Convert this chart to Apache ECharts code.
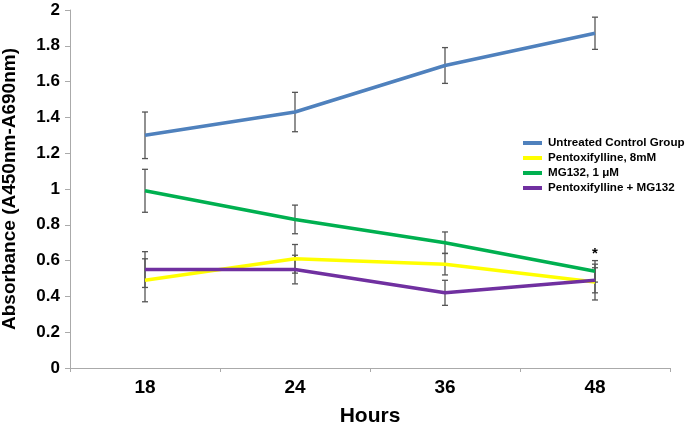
<!DOCTYPE html>
<html>
<head>
<meta charset="utf-8">
<script src="https://cdn.jsdelivr.net/npm/echarts@6/dist/echarts.min.js"></script>
<style>html,body{margin:0;padding:0;background:#fff}#c{width:685px;height:426px}</style>
</head>
<body>
<div id="c"></div>
<script>
const hours = ['18', '24', '36', '48'];
const seriesNames = ['Untreated Control Group', 'Pentoxifylline, 8mM', 'MG132, 1 \u03bcM', 'Pentoxifylline + MG132'];
const untreated = [1.30, 1.43, 1.69, 1.87];
const untreatedErr = [0.13, 0.11, 0.10, 0.09];
const pentox = [0.49, 0.61, 0.58, 0.48];
const pentoxErr = [0.12, 0.08, 0.06, 0.10];
const mg132 = [0.99, 0.83, 0.70, 0.54];
const mg132Err = [0.12, 0.08, 0.06, 0.06];
const combo = [0.55, 0.55, 0.42, 0.49];
const comboErr = [0.10, 0.08, 0.07, 0.07];
const yTicks = [0, 0.2, 0.4, 0.6, 0.8, 1, 1.2, 1.4, 1.6, 1.8, 2];
const starPoint = [3, 0.655];

const colors = ['#4f81bd', '#ffff00', '#00b050', '#7030a0'];
const values = [untreated, pentox, mg132, combo];
const errs = [untreatedErr, pentoxErr, mg132Err, comboErr];

const font = '"Liberation Sans", Arial, Helvetica, sans-serif';

const errData = [];
values.forEach((vals, s) => vals.forEach((v, i) => errData.push([i, v - errs[s][i], v + errs[s][i]])));

const lineSeries = seriesNames.map((n, s) => ({
  name: n,
  type: 'line',
  data: values[s],
  symbol: 'none',
  z: 3 + s,
  lineStyle: { color: colors[s], width: 3.5 },
  itemStyle: { color: colors[s] }
}));
lineSeries[2].markPoint = {
  symbol: 'circle', symbolSize: 0,
  data: [{ coord: starPoint, value: '*' }],
  label: { show: true, formatter: '*', color: '#000', fontFamily: font, fontWeight: 'bold', fontSize: 15, offset: [0, 3] }
};

const chart = echarts.init(document.getElementById('c'));
chart.setOption({
  animation: false,
  backgroundColor: '#fff',
  grid: { left: 70, top: 10, right: 15, bottom: 58, containLabel: false, outerBoundsMode: 'none' },
  legend: {
    orient: 'vertical',
    left: 518, top: 131,
    itemWidth: 19, itemHeight: 4,
    itemGap: 1,
    icon: 'rect',
    data: seriesNames,
    textStyle: { fontFamily: font, fontWeight: 'bold', fontSize: 11.6, color: '#000', lineHeight: 14, padding: [0, 0, 0, 1] }
  },
  xAxis: {
    type: 'category',
    data: hours,
    boundaryGap: true,
    name: 'Hours',
    nameLocation: 'middle',
    nameGap: 38,
    nameTextStyle: { fontFamily: font, fontWeight: 'bold', fontSize: 21, color: '#000' },
    axisLine: { lineStyle: { color: '#aaaaaa', width: 1 } },
    axisTick: { show: true, length: 4, lineStyle: { color: '#aaaaaa' } },
    axisLabel: { fontFamily: font, fontWeight: 'bold', fontSize: 19, color: '#000', margin: 10 },
    splitLine: { show: false }
  },
  yAxis: {
    type: 'value',
    min: yTicks[0], max: yTicks[yTicks.length - 1], interval: 0.2,
    name: 'Absorbance (A450nm-A690nm)',
    nameLocation: 'middle',
    nameGap: 51,
    nameTextStyle: { fontFamily: font, fontWeight: 'bold', fontSize: 19, color: '#000' },
    axisLine: { show: true, lineStyle: { color: '#aaaaaa', width: 1 } },
    axisTick: { show: true, length: 5, lineStyle: { color: '#aaaaaa' } },
    axisLabel: { fontFamily: font, fontWeight: 'bold', fontSize: 17, color: '#000', margin: 10,
      formatter: v => String(Math.round(v * 10) / 10) },
    splitLine: { show: false }
  },
  series: [
    {
      type: 'custom',
      name: 'err',
      z: 2,
      data: errData,
      renderItem: (params, api) => {
        const lo = api.coord([api.value(0), api.value(1)]);
        const hi = api.coord([api.value(0), api.value(2)]);
        const w = 3;
        const st = { stroke: '#555', lineWidth: 1.3 };
        return { type: 'group', children: [
          { type: 'line', shape: { x1: lo[0], y1: lo[1], x2: hi[0], y2: hi[1] }, style: st },
          { type: 'line', shape: { x1: lo[0] - w, y1: lo[1], x2: lo[0] + w, y2: lo[1] }, style: st },
          { type: 'line', shape: { x1: hi[0] - w, y1: hi[1], x2: hi[0] + w, y2: hi[1] }, style: st }
        ]};
      }
    },
    ...lineSeries
  ]
});
</script>
</body>
</html>
